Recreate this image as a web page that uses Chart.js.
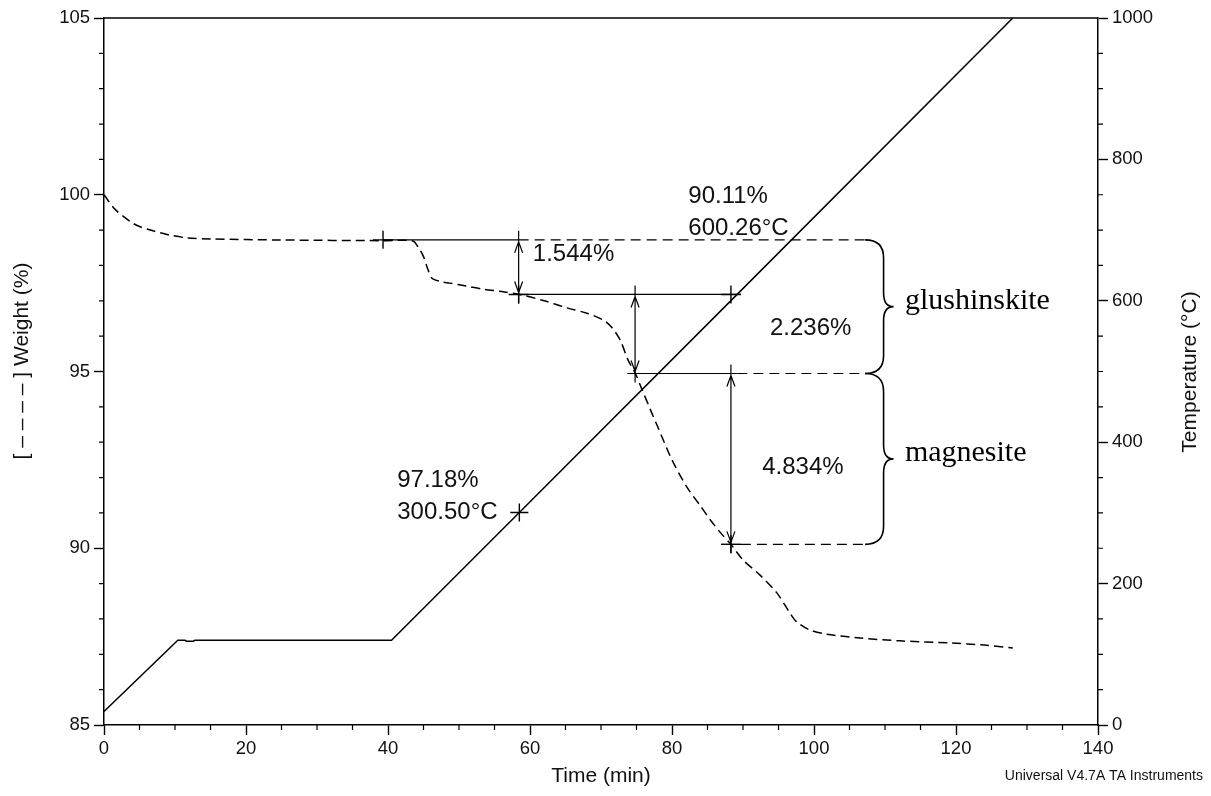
<!DOCTYPE html>
<html lang="en">
<head>
<meta charset="UTF-8" />
<title>TGA - Weight and Temperature</title>
<script src="https://cdn.jsdelivr.net/npm/chart.js"></script>
<style>
  html, body { margin: 0; padding: 0; background: #fff; }
</style>
</head>
<body>
<canvas id="tgaChart" width="1211" height="796"></canvas>
<script>
// weight curve (dashed), time in min / weight in %
const weightTime = [0, 1.5, 3.7, 5, 6.9, 9, 11.7, 15, 25, 39.3, 43.5, 44.3, 45, 45.6, 46.2, 47.3, 48.7, 51, 53.4, 56, 58.5,
  62, 65.2, 68, 70.3, 71.5, 72.7, 73.8, 74.8, 75.8, 77, 78, 80, 82.1, 84, 85.4, 87, 88.3, 90, 92.4, 94.8, 96.6, 97.6,
  99.4, 101.8, 106.5, 112.1, 119.2, 124, 128];
const weightPct = [100, 99.6, 99.24, 99.1, 98.98, 98.87, 98.78, 98.75, 98.72, 98.7, 98.69, 98.5, 98.25, 97.9, 97.64, 97.55, 97.5, 97.42, 97.33, 97.26, 97.18,
  97.0, 96.8, 96.65, 96.46, 96.25, 95.89, 95.33, 94.96, 94.48, 93.9, 93.43, 92.5, 91.73, 91.2, 90.8, 90.4, 90.11, 89.67, 89.24, 88.73, 88.17, 87.91,
  87.69, 87.57, 87.46, 87.38, 87.32, 87.26, 87.18];

// temperature program (solid)
const tempTime = [0, 10.4, 11.4, 11.6, 12.6, 12.8, 40.5, 58.5, 88.3, 128];
const tempC = [19, 120, 120, 118.5, 118.5, 120, 120, 300.5, 600.26, 1000];

// axis ticks
const timeTicks = [0, 20, 40, 60, 80, 100, 120, 140];
const weightTicks = [85, 90, 95, 100, 105];
const tempTicks = [0, 200, 400, 600, 800, 1000];
const timeMinor = 5, weightMinor = 1, tempMinor = 50;

// step analysis marks
const stepLevels = [98.724, 97.18, 94.944, 90.11];
const stepSolid = [[39.3, 58.4], [58.4, 89.7], [73.7, 89.2], [86.9, 89.7]];
const stepDashEnd = [107.2, null, 107.2, 107.2];
const arrowTimes = [58.4, 74.8, 88.3];
const stepLabels = ['1.544%', '2.236%', '4.834%'];
const stepLabelPos = [[60.4, 98.3], [93.8, 96.23], [92.7, 92.3]];
const crossPts = [[39.3, 98.724], [58.4, 97.18], [88.3, 97.18], [88.3, 90.11]];
const pointNotes = [['90.11%', '600.26°C'], ['97.18%', '300.50°C']];
const pointNotePos = [[82.3, 99.96], [41.3, 91.93]];
const tempCross = [58.5, 300.5];
const braceRanges = [[98.724, 94.944], [94.944, 90.11]];
const braceNames = ['glushinskite', 'magnesite'];
const braceTimes = [107.2, 109.8, 111.2, 112.8]; // start, body, tip, text

const sans = "'Liberation Sans', Arial, sans-serif";
const serif = "'Liberation Serif', 'Times New Roman', serif";

const extras = {
    id: 'extras',
    afterDatasetsDraw(chart) {
        const { ctx, chartArea: a, scales: { x, y, y1 } } = chart;
        const px = t => x.getPixelForValue(t);
        const py = w => y.getPixelForValue(w);
        ctx.save();
        ctx.strokeStyle = '#000';
        ctx.fillStyle = '#111';

        // frame top
        ctx.lineWidth = 1.5;
        ctx.beginPath();
        ctx.moveTo(a.left, a.top); ctx.lineTo(a.right, a.top);
        ctx.stroke();

        // minor ticks
        ctx.lineWidth = 1.2;
        ctx.beginPath();
        for (let t = 0; t <= 140; t += timeMinor) {
            if (t % 20 === 0) continue;
            ctx.moveTo(px(t), a.bottom); ctx.lineTo(px(t), a.bottom + 5);
        }
        for (let w = 85; w <= 105; w += weightMinor) {
            if (w % 5 === 0) continue;
            ctx.moveTo(a.left, py(w)); ctx.lineTo(a.left - 5, py(w));
        }
        for (let c = 0; c <= 1000; c += tempMinor) {
            if (c % 200 === 0) continue;
            const yy = y1.getPixelForValue(c);
            ctx.moveTo(a.right, yy); ctx.lineTo(a.right + 5, yy);
        }
        ctx.stroke();

        // step lines
        ctx.lineWidth = 1.2;
        stepLevels.forEach((w, i) => {
            const yy = py(w);
            ctx.setLineDash([]);
            ctx.beginPath();
            ctx.moveTo(px(stepSolid[i][0]), yy); ctx.lineTo(px(stepSolid[i][1]), yy);
            ctx.stroke();
            if (stepDashEnd[i]) {
                ctx.setLineDash([10, 6]);
                ctx.beginPath();
                ctx.moveTo(px(stepSolid[i][1]), yy); ctx.lineTo(px(stepDashEnd[i]), yy);
                ctx.stroke();
            }
        });
        ctx.setLineDash([]);

        // double arrows
        arrowTimes.forEach((t, i) => {
            const xx = px(t), y0 = py(stepLevels[i]), yb = py(stepLevels[i + 1]);
            ctx.beginPath();
            ctx.moveTo(xx, y0 - 9); ctx.lineTo(xx, yb + 9);
            ctx.moveTo(xx - 4, y0 + 13); ctx.lineTo(xx, y0 + 2); ctx.lineTo(xx + 4, y0 + 13);
            ctx.moveTo(xx - 4, yb - 13); ctx.lineTo(xx, yb - 2); ctx.lineTo(xx + 4, yb - 13);
            ctx.stroke();
        });

        // crosses
        ctx.lineWidth = 1.4;
        ctx.beginPath();
        crossPts.forEach(([t, w]) => {
            const xx = px(t), yy = py(w);
            ctx.moveTo(xx - 10, yy); ctx.lineTo(xx + 10, yy);
            ctx.moveTo(xx, yy - 9); ctx.lineTo(xx, yy + 9);
        });
        const tx = px(tempCross[0]), ty = y1.getPixelForValue(tempCross[1]);
        ctx.moveTo(tx - 9, ty); ctx.lineTo(tx + 9, ty);
        ctx.moveTo(tx, ty - 9); ctx.lineTo(tx, ty + 9);
        ctx.stroke();

        // braces
        ctx.lineWidth = 1.6;
        const [b0, b1, b2] = braceTimes.map(px);
        braceRanges.forEach(([wt, wb]) => {
            const yt = py(wt), yb = py(wb), ym = (yt + yb) / 2;
            ctx.beginPath();
            ctx.moveTo(b0, yt);
            ctx.quadraticCurveTo(b1, yt, b1, yt + 18);
            ctx.lineTo(b1, ym - 14);
            ctx.quadraticCurveTo(b1, ym, b2, ym);
            ctx.quadraticCurveTo(b1, ym, b1, ym + 14);
            ctx.lineTo(b1, yb - 18);
            ctx.quadraticCurveTo(b1, yb, b0, yb);
            ctx.stroke();
        });

        // texts
        ctx.textBaseline = 'middle';
        ctx.textAlign = 'left';
        ctx.font = '24px ' + sans;
        stepLabels.forEach((s, i) => ctx.fillText(s, px(stepLabelPos[i][0]), py(stepLabelPos[i][1])));
        pointNotes.forEach((n, i) => {
            const xx = px(pointNotePos[i][0]), yy = py(pointNotePos[i][1]);
            ctx.fillText(n[0], xx, yy);
            ctx.fillText(n[1], xx, yy + 32);
        });
        ctx.font = '30px ' + serif;
        ctx.fillStyle = '#000';
        braceRanges.forEach(([wt, wb], i) => {
            ctx.fillText(braceNames[i], px(braceTimes[3]), (py(wt) + py(wb)) / 2 - 6);
        });

        // axis titles
        ctx.fillStyle = '#111';
        ctx.font = '21px ' + sans;
        ctx.textAlign = 'center';
        ctx.save();
        ctx.translate(22, 361);
        ctx.rotate(-Math.PI / 2);
        ctx.fillText('[ – – – – ] Weight (%)', 0, 0);
        ctx.restore();
        ctx.save();
        ctx.translate(1190, 372);
        ctx.rotate(-Math.PI / 2);
        ctx.fillText('Temperature (°C)', 0, 0);
        ctx.restore();

        ctx.font = '14px ' + sans;
        ctx.textAlign = 'right';
        ctx.fillText('Universal V4.7A TA Instruments', 1203, 776);
        ctx.restore();
    }
};

const tickFont = { size: 18.5, family: sans };
const gridOpts = { drawOnChartArea: false, tickLength: 10, color: '#000', tickWidth: 1.4 };
const borderOpts = { color: '#000', width: 1.5 };
const plainLabel = v => String(v);

new Chart(document.getElementById('tgaChart'), {
    type: 'scatter',
    data: {
        datasets: [
            {
                label: 'Weight',
                data: weightTime.map((t, i) => ({ x: t, y: weightPct[i] })),
                yAxisID: 'y',
                showLine: true,
                borderColor: '#000',
                borderWidth: 1.5,
                borderDash: [9, 5],
                pointRadius: 0,
                tension: 0.3
            },
            {
                label: 'Temperature',
                data: tempTime.map((t, i) => ({ x: t, y: tempC[i] })),
                yAxisID: 'y1',
                showLine: true,
                borderColor: '#000',
                borderWidth: 1.5,
                pointRadius: 0,
                tension: 0
            }
        ]
    },
    options: {
        responsive: false,
        animation: false,
        layout: { padding: { top: 18, left: 0, right: 0, bottom: 0 } },
        plugins: { legend: { display: false }, tooltip: { enabled: false } },
        scales: {
            x: {
                type: 'linear', min: 0, max: 140,
                afterBuildTicks: s => { s.ticks = timeTicks.map(v => ({ value: v })); },
                afterFit: s => { s.height = 71; },
                grid: gridOpts, border: borderOpts,
                ticks: { color: '#111', font: tickFont, padding: 3, maxRotation: 0, callback: plainLabel },
                title: { display: true, text: 'Time (min)', color: '#111', font: { size: 21, family: sans }, padding: { top: 0, bottom: 7 } }
            },
            y: {
                type: 'linear', position: 'left', min: 85, max: 105,
                afterBuildTicks: s => { s.ticks = weightTicks.map(v => ({ value: v })); },
                afterFit: s => { s.width = 104; },
                grid: gridOpts, border: borderOpts,
                ticks: { color: '#111', font: tickFont, padding: 4, callback: plainLabel }
            },
            y1: {
                type: 'linear', position: 'right', min: 0, max: 1000,
                afterBuildTicks: s => { s.ticks = tempTicks.map(v => ({ value: v })); },
                afterFit: s => { s.width = 113; },
                grid: gridOpts, border: borderOpts,
                ticks: { color: '#111', font: tickFont, padding: 4, callback: plainLabel }
            }
        }
    },
    plugins: [extras]
});
</script>
</body>
</html>
